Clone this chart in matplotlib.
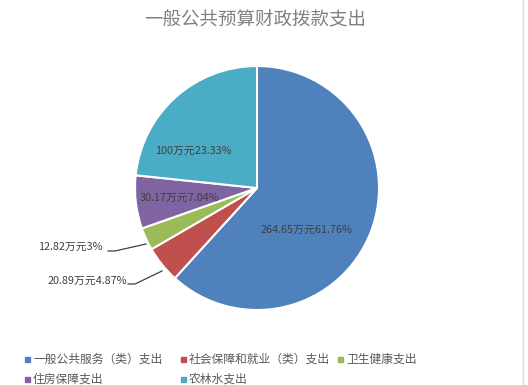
import matplotlib.pyplot as plt
from matplotlib.patches import Rectangle

plt.rcParams['font.family'] = ['Noto Sans CJK SC', 'DejaVu Sans']

W, H = 528, 385

title = '一般公共预算财政拨款支出'
categories = ['一般公共服务（类）支出', '社会保障和就业（类）支出', '卫生健康支出',
              '住房保障支出', '农林水支出']
values = [264.65, 20.89, 12.82, 30.17, 100]
pct_labels = ['61.76%', '4.87%', '3%', '7.04%', '23.33%']
value_labels = ['264.65', '20.89', '12.82', '30.17', '100']
colors = ['#4F81BD', '#C0504D', '#9BBB59', '#8064A2', '#4BACC6']

fig = plt.figure(figsize=(W / 100, H / 100), dpi=100)
ax = fig.add_axes([0, 0, 1, 1])


def px(x, y):
    # pixel coords from top-left -> data coords
    return x, H - y


cx, cy = px(257, 188)
ax.pie(values, colors=colors, startangle=90, counterclock=False,
       center=(cx, cy), radius=122,
       wedgeprops=dict(edgecolor='white', linewidth=1.5))
ax.set_xlim(0, W)
ax.set_ylim(0, H)
ax.set_aspect('equal')
ax.axis('off')

# data labels: (text center, leader line points or None)
label_pos = [
    ((307, 230), None),
    ((87, 281), [(128, 284), (135, 284), (162, 271)]),
    ((70, 247), [(108, 251), (115, 251), (146, 244)]),
    ((179, 198), None),
    ((193, 151), None),
]
for v, p, (pos, line) in zip(value_labels, pct_labels, label_pos):
    ax.text(*px(*pos), v + '万元' + p, ha='center', va='center',
            fontsize=7.8, color='#404040')
    if line:
        xs, ys = zip(*[px(*q) for q in line])
        ax.plot(xs, ys, color='#404040', lw=0.9)

ax.text(*px(255, 20), title, ha='center', va='center', fontsize=13.3,
        color='#808080')

# legend, row-major like the original
leg_pos = [(27, 359), (183, 359), (340, 359), (27, 379), (183, 379)]
for name, c, (lx, ly) in zip(categories, colors, leg_pos):
    x0, y0 = px(lx, ly)
    ax.add_patch(Rectangle((x0 - 2.5, y0 - 2.5), 5, 5, color=c))
    ax.text(x0 + 6, y0, name, ha='left', va='center', fontsize=8.5,
            color='#595959')

ax.plot(*zip(px(523, 0), px(523, H)), color='#D9D9D9', lw=1)

plt.savefig('out.png', dpi=100)
